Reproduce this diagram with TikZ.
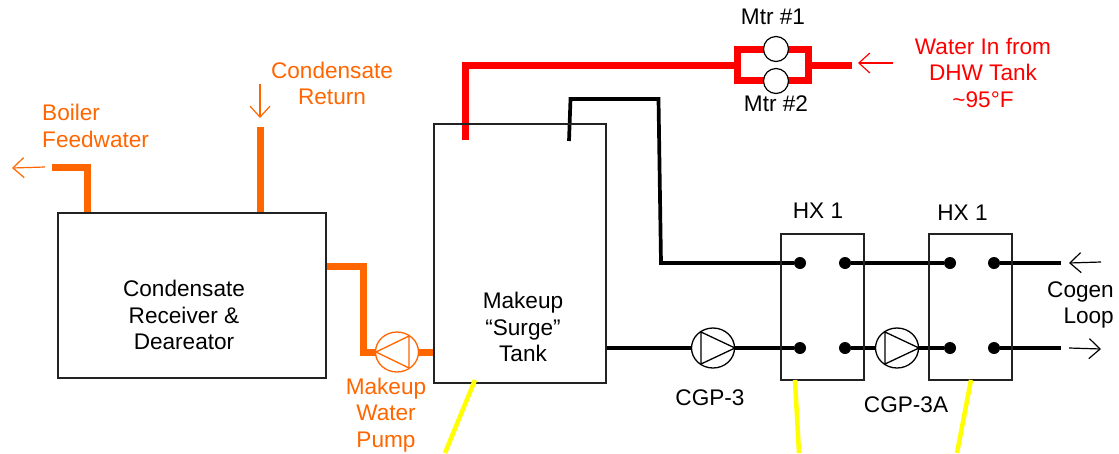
\documentclass[tikz,border=0pt]{standalone}
\usepackage{fontspec}
\setmainfont{Liberation Sans}
\usetikzlibrary{arrows.meta,shapes.geometric}
\definecolor{pipeorange}{HTML}{FF6600}
\definecolor{pipered}{HTML}{FF0000}
\definecolor{pipeyellow}{HTML}{FFFF00}
\definecolor{boxline}{HTML}{222222}
\tikzset{
  vessel/.style={draw=boxline,line width=1.5pt,inner sep=0pt,outer sep=0pt},
  lab/.style={font=\fontsize{22.6}{26.5}\selectfont,align=center,inner sep=0pt,text=#1},
  lab/.default=black,
  orangepipe/.style={draw=pipeorange,line width=7pt},
  redpipe/.style={draw=pipered,line width=7pt},
  blackpipe/.style={draw=black,line width=3.7pt},
  yellowline/.style={draw=pipeyellow,line width=4.5pt},
  flow/.style={draw=#1,line width=1.2pt,-{Straight Barb[length=11pt,width=20pt,line width=1.2pt]}},
  portdot/.style={circle,fill=black,inner sep=0pt,outer sep=0pt,minimum size=12pt},
  pumpbody/.style={ellipse,draw=#1,line width=1.3pt,inner sep=0pt,outer sep=0pt,minimum width=43pt,minimum height=40pt},
  pumpbody/.default=black,
  meter/.style={circle,draw=black,line width=1.2pt,fill=white,inner sep=0pt,outer sep=0pt,minimum size=25pt},
}
\begin{document}
\begin{tikzpicture}[x=1pt,y=-1pt]
\useasboundingbox (0,0) rectangle (1119,453);
% free ends
\coordinate (fwend) at (52,167.5);
\coordinate (fwbend) at (87.5,167.5);
\coordinate (fwbase) at (87.5,213);
\coordinate (crtop) at (260,127);
\coordinate (crbase) at (260,213);
\coordinate (rout) at (326,266);
\coordinate (rbend1) at (363.5,266);
\coordinate (rbend2) at (363.5,352);
\coordinate (tin) at (434,352);
\coordinate (redstart) at (465.5,140);
\coordinate (redbend) at (465.5,65.5);
\coordinate (loopl) at (737,65.5);
\coordinate (loopr) at (808,65.5);
\coordinate (redend) at (852,65.5);
\coordinate (bstart) at (569,141);
\coordinate (bb1) at (570.5,99);
\coordinate (bb2) at (658.5,99);
\coordinate (bb3) at (661,263);
\coordinate (tout) at (606,348);
\coordinate (cin) at (1061,263);
\coordinate (cout) at (1061,348);
% ports
\node[portdot] (a1) at (800,263) {};
\node[portdot] (a2) at (845,263) {};
\node[portdot] (a3) at (800,348) {};
\node[portdot] (a4) at (845,348) {};
\node[portdot] (b1) at (950,263) {};
\node[portdot] (b2) at (994,263) {};
\node[portdot] (b3) at (950,348) {};
\node[portdot] (b4) at (994,348) {};
% pumps
\node[pumpbody] (cgp) at (713,348) {};
\node[pumpbody] (cgpa) at (897,348) {};
\node[pumpbody=pipeorange] (mwp) at (397,352) {};
\draw[line width=1.3pt,line join=round] (701,332) -- (735,348) -- (701,364) -- cycle;
\draw[line width=1.3pt,line join=round] (885,332) -- (919,348) -- (885,364) -- cycle;
\draw[draw=pipeorange,line width=1.3pt,line join=round] (376,352) -- (409,336) -- (409,368) -- cycle;
% orange pipes
\draw[orangepipe,line join=miter] (fwend) -- (fwbend) -- (fwbase);
\draw[orangepipe] (crtop) -- (crbase);
\draw[orangepipe,line join=miter] (rout) -- (rbend1) -- (rbend2) -- (mwp.west);
\draw[orangepipe] (mwp.east) -- (tin);
% red pipes and meters
\draw[redpipe,line join=miter] (redstart) -- (redbend) -- (loopl);
\draw[redpipe] (loopr) -- (redend);
\draw[redpipe,line join=miter] (776,49) -- (737,49) -- (737,80) -- (776,80);
\draw[redpipe,line join=miter] (776,49) -- (808,49) -- (808,80) -- (776,80);
\node[meter] (m1) at (776,49) {};
\node[meter] (m2) at (776,81) {};
% black pipes
\draw[blackpipe,line join=miter] (bstart) -- (bb1) -- (bb2) -- (bb3) -- (a1);
\draw[blackpipe] (tout) -- (cgp.west);
\draw[blackpipe] (cgp.east) -- (a3);
\draw[blackpipe] (a2) -- (b1);
\draw[blackpipe] (a4) -- (cgpa.west);
\draw[blackpipe] (cgpa.east) -- (b3);
\draw[blackpipe] (b2) -- (cin);
\draw[blackpipe] (b4) -- (cout);
% vessels
\node[vessel,minimum width=268pt,minimum height=165pt] (recv) at (192,295.5) {};
\node[vessel,minimum width=172pt,minimum height=259pt] (tank) at (520,253.5) {};
\node[vessel,minimum width=83pt,minimum height=146pt] (hxa) at (822.5,307) {};
\node[vessel,minimum width=83pt,minimum height=146pt] (hxb) at (970.5,307) {};
% yellow lines
\coordinate (y1a) at (475,380);\coordinate (y1b) at (445,453);
\coordinate (y2a) at (795,380);\coordinate (y2b) at (799,453);
\coordinate (y3a) at (971,380);\coordinate (y3b) at (957,453);
\draw[yellowline] (y1a) -- (y1b);
\draw[yellowline] (y2a) -- (y2b);
\draw[yellowline] (y3a) -- (y3b);
% flow arrows
\coordinate (f1a) at (45,167);\coordinate (f1b) at (12,168);
\coordinate (f2a) at (260,84);\coordinate (f2b) at (260,118);
\coordinate (f3a) at (893,63);\coordinate (f3b) at (858,63);
\coordinate (f4a) at (1101,262);\coordinate (f4b) at (1069,263);
\coordinate (f5a) at (1069,348);\coordinate (f5b) at (1101,349);
\draw[flow=pipeorange] (f1a) -- (f1b);
\draw[flow=pipeorange] (f2a) -- (f2b);
\draw[flow=pipered] (f3a) -- (f3b);
\draw[flow=black] (f4a) -- (f4b);
\draw[flow=black] (f5a) -- (f5b);
% labels
\node[lab] (trecv) at (184,315) {Condensate\\Receiver \&\\Deareator};
\node[lab] (ttank) at (523,327) {Makeup\\“Surge”\\Tank};
\node[lab] (tm1) at (773,17) {Mtr \#1};
\node[lab] (tm2) at (776,104) {Mtr \#2};
\node[lab=pipered] (twater) at (983,72.5) {Water In from\\DHW Tank\\\textasciitilde 95°F};
\node[lab=pipeorange] (tcr) at (332,83.5) {Condensate\\Return};
\node[lab=pipeorange,align=left,anchor=west] (tfw) at (42,126) {Boiler\\Feedwater};
\node[lab=pipeorange] (tmwp) at (386,415) {Makeup\\Water\\Pump};
\node[lab] (tcgp) at (710,398) {CGP-3};
\node[lab] (tcgpa) at (906,405) {CGP-3A};
\node[lab] (thxa) at (818,211) {HX 1};
\node[lab] (thxb) at (962.5,213) {HX 1};
\node[lab,align=right,anchor=east] (tcog) at (1114,305) {Cogen\\Loop};
\end{tikzpicture}
\end{document}
